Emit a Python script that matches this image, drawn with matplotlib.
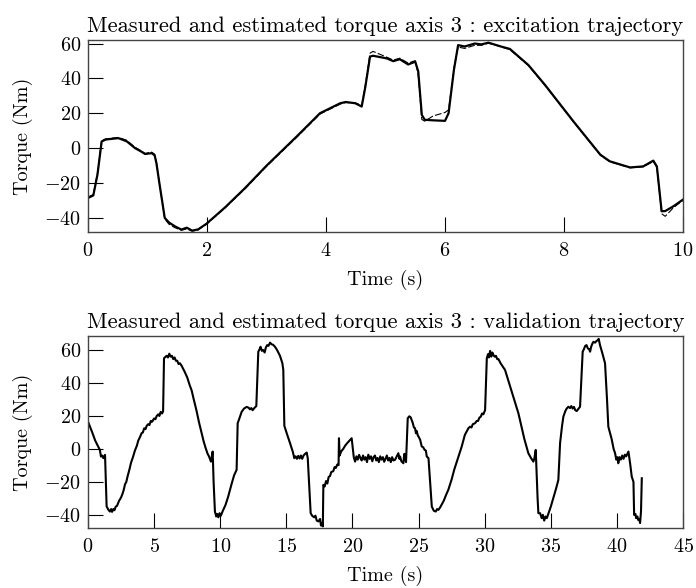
import numpy as np
import matplotlib
matplotlib.use("Agg")
import matplotlib.pyplot as plt

plt.rcParams['font.family'] = ['cmr10', 'DejaVu Serif']
plt.rcParams['mathtext.fontset'] = 'cm'
plt.rcParams['axes.formatter.use_mathtext'] = True
plt.rcParams['font.size'] = 13.5

# excitation trajectory: measured torque
t_exc = [0.0, 0.09, 0.16, 0.23, 0.3, 0.51, 0.65, 0.79, 0.9, 0.96, 1.07, 1.12, 1.15, 1.2,
         1.29, 1.36, 1.46, 1.57, 1.66, 1.75, 1.85, 1.99, 2.3, 2.64, 3.0, 3.5, 3.9, 4.24,
         4.33, 4.49, 4.6, 4.66, 4.74, 4.79, 5.02, 5.13, 5.24, 5.38, 5.5, 5.55, 5.61, 5.66,
         5.8, 6.0, 6.06, 6.15, 6.22, 6.33, 6.5, 6.61, 6.73, 6.95, 7.09, 7.4, 7.68, 8.16,
         8.61, 8.77, 9.11, 9.33, 9.5, 9.56, 9.64, 9.7, 9.84, 10.0]
tq_meas = [-28.5, -27, -15, 3.9, 5.0, 5.8, 4.0, 0.1, -2.0, -3.3, -2.8, -4.0, -8.5, -20,
           -39.9, -42.5, -44.7, -46.6, -45.5, -47.2, -46.5, -43.3, -34, -22.8, -10, 6.5, 20.1, 25.8,
           26.5, 25.8, 23.9, 35, 52.5, 53, 51.5, 49.9, 51, 48, 49.6, 44, 19.1, 16.3,
           16.0, 15.7, 20.1, 45, 59.1, 58.3, 60.0, 59.5, 60.5, 58.2, 56.9, 47.7, 36.3, 15.3,
           -3.7, -7.5, -11, -10.4, -7.1, -10.4, -36.1, -36.0, -33.2, -29.4]
# excitation trajectory: estimated torque
tq_est = [-28.0, -26.5, -14, 4.5, 5.4, 6.2, 4.6, 0.6, -1.6, -3.0, -2.2, -3.4, -8.0, -20,
          -40.5, -43.5, -45.5, -47.0, -46.2, -47.5, -46.8, -43.6, -34.3, -23.2, -10.4, 6.0, 19.6, 25.3,
          26.2, 26.0, 24.6, 36, 54.5, 55.5, 52.2, 50.5, 51.6, 48.8, 50.2, 42, 16.5, 15.5,
          18.5, 20.5, 22.0, 46, 58.0, 57.2, 59.0, 59.0, 60.2, 58.0, 56.5, 47.4, 36.0, 15.0,
          -4.0, -7.8, -11.2, -10.6, -7.6, -11.0, -37.5, -39.0, -34.0, -29.8]

# validation trajectory: measured torque, (time, torque) pairs
val_pts = [
    (0.0, 16.6), (0.3, 10.5), (0.55, 5.0), (0.78, 1.4), (0.9, -0.6), (0.98, -4.6), (1.08, -4.0),
    (1.16, -5.6), (1.29, -3.6), (1.41, -34.9), (1.55, -37.0), (1.66, -38.0), (1.75, -36.5),
    (1.82, -38.2), (1.92, -36.5), (2.0, -37.2), (2.1, -35.0), (2.2, -34.5), (2.35, -31.5),
    (2.5, -29.5), (2.6, -27.5), (2.7, -25.0), (2.8, -21.5), (2.9, -20.0), (3.0, -16.5),
    (3.15, -12.0), (3.25, -8.5), (3.4, -5.0), (3.55, -1.0), (3.7, 2.0), (3.8, 5.0), (3.95, 7.5),
    (4.05, 9.5), (4.15, 10.0), (4.25, 12.5), (4.35, 12.0), (4.44, 14.0), (4.55, 15.0),
    (4.65, 14.5), (4.75, 17.0), (4.85, 16.5), (5.0, 18.5), (5.1, 18.0), (5.2, 20.0),
    (5.32, 21.0), (5.4, 20.0), (5.5, 22.5), (5.6, 21.5), (5.68, 22.8), (5.75, 55.0),
    (5.85, 55.8), (5.95, 56.5), (6.05, 55.5), (6.15, 57.8), (6.25, 56.0), (6.35, 56.5),
    (6.45, 54.5), (6.55, 55.5), (6.65, 53.5), (6.75, 53.5), (6.85, 51.5), (6.95, 52.0),
    (7.08, 50.5), (7.3, 47.0), (7.5, 43.5), (7.7, 38.5), (7.84, 35.5), (8.0, 30.0), (8.2, 23.5),
    (8.4, 16.0), (8.6, 9.5), (8.75, 4.5), (8.9, 0.5), (9.05, -3.0), (9.15, -4.5), (9.3, -7.7),
    (9.38, -4.0), (9.43, -1.6), (9.5, -20.0), (9.6, -38.0), (9.7, -41.0), (9.78, -39.5),
    (9.86, -41.5), (9.95, -39.0), (10.05, -40.5), (10.2, -37.5), (10.4, -34.0), (10.6, -29.0),
    (10.87, -21.0), (11.05, -16.0), (11.24, -12.7), (11.32, 15.6), (11.45, 18.5), (11.62, 22.5),
    (11.8, 24.5), (12.0, 25.5), (12.15, 25.0), (12.25, 24.0), (12.35, 24.8), (12.45, 23.5),
    (12.6, 25.0), (12.73, 26.0), (12.88, 59.0), (12.98, 60.5), (13.05, 62.0), (13.15, 59.5),
    (13.25, 60.0), (13.36, 58.5), (13.45, 61.5), (13.55, 63.0), (13.65, 62.5), (13.77, 64.5),
    (13.88, 63.5), (14.0, 63.2), (14.14, 62.0), (14.3, 60.0), (14.52, 56.5), (14.7, 52.0),
    (14.77, 48.0), (14.85, 14.0), (15.05, 9.0), (15.28, 3.5), (15.5, -2.0), (15.6, -5.6),
    (15.7, -4.5), (15.8, -6.0), (15.9, -4.2), (16.0, -5.8), (16.1, -4.0), (16.2, -6.0),
    (16.3, -4.0), (16.42, -3.0), (16.54, -2.2), (16.62, -5.6), (16.84, -39.0), (16.95, -40.5),
    (17.1, -41.5), (17.2, -40.5), (17.3, -43.5), (17.42, -44.0), (17.55, -42.5), (17.62, -46.5),
    (17.7, -45.0), (17.76, -47.0), (17.8, -21.8), (17.9, -22.8), (18.0, -19.5), (18.1, -21.0),
    (18.2, -17.0), (18.3, -16.5), (18.4, -14.0), (18.55, -13.5), (18.65, -11.0), (18.75, -11.5),
    (18.85, -9.5), (18.95, -9.8), (18.98, 6.5), (19.03, -4.0), (19.15, -1.5), (19.3, 0.0),
    (19.45, 2.0), (19.6, 3.5), (19.75, 4.8), (19.94, 6.5), (20.1, -5.0), (20.2, -7.7),
    (20.3, -4.5), (20.4, -6.5), (20.5, -3.6), (20.6, -5.5), (20.7, -7.0), (20.8, -4.0),
    (20.9, -6.5), (21.0, -5.0), (21.1, -8.0), (21.2, -3.5), (21.3, -6.0), (21.4, -4.5),
    (21.5, -7.5), (21.6, -5.0), (21.7, -4.0), (21.8, -7.0), (21.9, -5.5), (22.0, -8.0),
    (22.1, -4.5), (22.2, -6.5), (22.3, -5.0), (22.4, -7.8), (22.5, -6.0), (22.6, -4.0),
    (22.7, -7.0), (22.8, -5.5), (22.9, -8.0), (23.0, -5.0), (23.1, -7.0), (23.22, -6.6),
    (23.35, -4.5), (23.47, -2.6), (23.55, -6.0), (23.6, -4.6), (23.7, -7.5), (23.85, -8.7),
    (23.92, -3.0), (23.97, -3.6), (24.05, -8.0), (24.18, 18.6), (24.3, 19.8), (24.4, 19.2),
    (24.55, 16.0), (24.65, 13.0), (24.73, 12.6), (24.8, 9.5), (24.85, 11.0), (24.95, 8.0),
    (25.0, 7.5), (25.12, 5.5), (25.24, 1.5), (25.35, 1.0), (25.45, -0.5), (25.55, -1.0),
    (25.62, -4.6), (25.75, -5.6), (26.0, -35.0), (26.15, -37.5), (26.3, -38.0), (26.4, -36.5),
    (26.5, -37.0), (26.63, -35.5), (26.8, -33.0), (26.9, -31.5), (27.1, -27.5), (27.25, -24.8),
    (27.5, -18.5), (27.7, -12.5), (28.0, -5.0), (28.26, 1.4), (28.5, 8.5), (28.6, 10.0),
    (28.77, 12.6), (28.9, 13.5), (29.0, 13.0), (29.1, 15.0), (29.27, 15.6), (29.4, 17.0),
    (29.5, 17.0), (29.6, 19.0), (29.7, 19.5), (29.8, 21.5), (29.9, 21.0), (30.03, 23.6),
    (30.16, 55.0), (30.25, 57.5), (30.32, 55.5), (30.41, 59.5), (30.5, 56.0), (30.58, 58.5),
    (30.66, 57.0), (30.75, 56.0), (30.85, 56.5), (30.95, 54.5), (31.04, 54.5), (31.2, 52.0),
    (31.54, 47.9), (32.0, 36.0), (32.55, 21.6), (33.0, 6.0), (33.3, -2.6), (33.5, -5.5),
    (33.68, -7.7), (33.75, -6.0), (33.86, -0.6), (34.0, -30.0), (34.06, -39.0), (34.19, -39.0),
    (34.31, -42.0), (34.4, -40.0), (34.5, -43.5), (34.6, -41.0), (34.7, -42.0), (34.85, -38.5),
    (35.0, -35.0), (35.2, -29.5), (35.4, -24.0), (35.57, -18.8), (35.7, 3.5), (35.85, 14.0),
    (35.95, 19.6), (36.1, 23.0), (36.2, 24.5), (36.33, 25.6), (36.45, 24.8), (36.55, 26.0),
    (36.65, 24.5), (36.75, 25.5), (36.85, 23.5), (36.96, 23.0), (37.1, 24.5), (37.21, 25.6),
    (37.41, 59.0), (37.5, 60.5), (37.6, 62.5), (37.7, 63.0), (37.8, 61.0), (37.9, 60.5),
    (37.97, 59.0), (38.05, 62.0), (38.15, 64.0), (38.22, 65.0), (38.35, 64.5), (38.45, 65.5),
    (38.55, 66.0), (38.62, 66.8), (38.72, 63.0), (38.9, 58.0), (39.1, 52.0), (39.25, 30.0),
    (39.35, 13.5), (39.6, 6.0), (39.75, 0.0), (39.86, -2.6), (39.95, -6.5), (40.05, -5.0),
    (40.1, -8.7), (40.2, -5.0), (40.3, -6.5), (40.4, -4.0), (40.5, -6.0), (40.6, -3.5),
    (40.7, -4.5), (40.87, -1.6), (41.0, -9.0), (41.12, -16.8), (41.25, -20.0), (41.3, -40.0),
    (41.4, -39.5), (41.45, -42.0), (41.55, -41.0), (41.6, -43.0), (41.68, -42.5), (41.75, -45.0),
    (41.82, -38.0), (41.88, -17.8),
]
t_val = [p[0] for p in val_pts]
tq_val = [p[1] for p in val_pts]

fig = plt.figure(figsize=(6.96, 5.88), dpi=100)
ax1 = fig.add_axes([0.1264, 0.6054, 0.855, 0.3265])
ax2 = fig.add_axes([0.1264, 0.102, 0.855, 0.3265])

ax1.plot(t_exc, tq_est, color='black', lw=0.8, dashes=(6, 2))
ax1.plot(t_exc, tq_meas, color='black', lw=1.6)
ax2.plot(t_val, tq_val, color='black', lw=1.5)

ax1.set_xlim(0, 10)
ax1.set_ylim(-48, 62)
ax1.set_xticks([0, 2, 4, 6, 8, 10])
ax1.set_yticks([-40, -20, 0, 20, 40, 60])
ax1.set_title("Measured and estimated torque axis 3 : excitation trajectory", pad=6)

ax2.set_xlim(0, 45)
ax2.set_ylim(-48, 68.5)
ax2.set_xticks(range(0, 50, 5))
ax2.set_yticks([-40, -20, 0, 20, 40, 60])
ax2.set_title("Measured and estimated torque axis 3 : validation trajectory", pad=6)

for ax in (ax1, ax2):
    ax.set_xlabel("Time (s)", labelpad=7, fontsize=14.5)
    ax.set_ylabel("Torque (Nm)", labelpad=8, fontsize=14.5)
    ax.tick_params(direction='in', length=11, width=0.8, top=False, right=False,
                   labelsize=14.5)
    ax.tick_params(axis='x', pad=7)
    ax.tick_params(axis='y', pad=5)
    for s in ax.spines.values():
        s.set_color('#444444')
        s.set_linewidth(1.0)

fig.savefig("out.png", dpi=100)
